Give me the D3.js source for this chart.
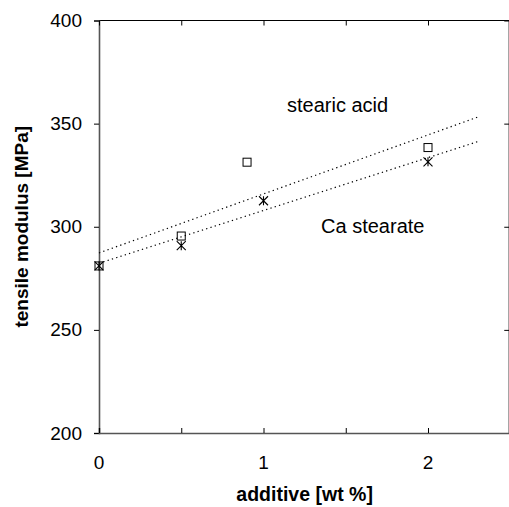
<!DOCTYPE html>
<html>
<head>
<meta charset="utf-8">
<script src="https://cdn.jsdelivr.net/npm/d3@7"></script>
<style>
html,body{margin:0;padding:0;background:#fff;}
svg{display:block;font-family:"Liberation Sans",Arial,sans-serif;}
</style>
</head>
<body>
<svg id="chart" width="509" height="507"></svg>
<script>
// data
const additive = [0, 0.5, 0.9, 2];           // stearic acid x
const stearicAcid = [281, 295.5, 331.3, 338.4];
const additiveCa = [0, 0.5, 1, 2];           // Ca stearate x
const caStearate = [281, 290.8, 312.6, 331.5];
const fitX = [0, 2.3];
const stearicFit = [287.3, 353.1];
const caFit = [282.3, 341.2];
const xTicks = [0, 1, 2];
const xMinorTicks = [0, 0.5, 1, 1.5, 2, 2.5];
const yTicks = [200, 250, 300, 350, 400];
const labels = ["stearic acid", "Ca stearate"];
const labelX = [1.143, 1.35];
const labelY = [355.5, 297];

(function () {
const svg = d3.select("#chart");
const pL = 99, pR = 510.25, pT = 20.5, pB = 433;
const x = d3.scaleLinear().domain([0, 2.5]).range([pL, pR]);
const y = d3.scaleLinear().domain([200, 400]).range([pB, pT]);

// frame lines
svg.append("line").attr("x1", pL).attr("x2", pR).attr("y1", pT).attr("y2", pT)
  .attr("stroke", "#000").attr("stroke-width", 1.2);
svg.append("line").attr("x1", pR - 1).attr("x2", pR - 1).attr("y1", pT).attr("y2", pB)
  .attr("stroke", "#000").attr("stroke-width", 1.2);

// left axis
const yAxis = d3.axisLeft(y).tickValues(yTicks).tickSize(5).tickPadding(12);
const gy = svg.append("g").attr("transform", `translate(${pL},0)`).call(yAxis);
gy.select(".domain").attr("stroke", "#555").attr("stroke-width", 1.6);
gy.selectAll(".tick line").attr("stroke", "#000");
gy.selectAll("text").attr("font-size", 19).attr("fill", "#000")
  .attr("font-family", '"Liberation Sans",Arial,sans-serif');

// right inner ticks
svg.append("g").attr("transform", `translate(${pR - 1},0)`)
  .call(d3.axisLeft(y).tickValues(yTicks).tickSize(5).tickFormat(""))
  .call(g => g.select(".domain").remove());

// bottom axis
const xAxis = d3.axisBottom(x).tickValues(xMinorTicks).tickSize(-5).tickFormat("");
const gx = svg.append("g").attr("transform", `translate(0,${pB})`).call(xAxis);
gx.select(".domain").attr("stroke", "#555").attr("stroke-width", 1.6);
svg.append("g").attr("transform", `translate(0,${pB})`)
  .selectAll("text").data(xTicks).join("text")
  .attr("x", d => x(d)).attr("y", 36).attr("text-anchor", "middle")
  .attr("font-size", 19).text(d => d);

// top inner ticks
svg.append("g").attr("transform", `translate(0,${pT})`)
  .call(d3.axisTop(x).tickValues(xMinorTicks).tickSize(-5).tickFormat(""))
  .call(g => g.select(".domain").remove());

// axis titles
svg.append("text").attr("x", (pL + pR) / 2).attr("y", 501)
  .attr("text-anchor", "middle").attr("font-weight", "bold").attr("font-size", 19.5)
  .text("additive [wt %]");
svg.append("text").attr("transform", `translate(28,${(pT + pB) / 2}) rotate(-90)`)
  .attr("text-anchor", "middle").attr("font-weight", "bold").attr("font-size", 19)
  .text("tensile modulus [MPa]");

// fit lines
const line = d3.line().x(d => x(d[0])).y(d => y(d[1]));
[stearicFit, caFit].forEach(f => {
  svg.append("path").datum(fitX.map((v, i) => [v, f[i]]))
    .attr("d", line).attr("fill", "none").attr("stroke", "#000")
    .attr("stroke-width", 1.2).attr("stroke-dasharray", "1.3,3.2");
});

// squares
const s = 8;
svg.append("g").selectAll("rect").data(additive.map((v, i) => [v, stearicAcid[i]])).join("rect")
  .attr("x", d => x(d[0]) - s / 2).attr("y", d => y(d[1]) - s / 2)
  .attr("width", s).attr("height", s).attr("fill", "none").attr("stroke", "#000").attr("stroke-width", 1);

// stars
const r = 4.5;
svg.append("g").selectAll("path").data(additiveCa.map((v, i) => [v, caStearate[i]])).join("path")
  .attr("d", d => {
    const cx = x(d[0]), cy = y(d[1]);
    return `M${cx - r},${cy - r}L${cx + r},${cy + r}M${cx - r},${cy + r}L${cx + r},${cy - r}M${cx},${cy - r}L${cx},${cy + r}`;
  })
  .attr("stroke", "#000").attr("stroke-width", 1.1).attr("fill", "none");

// annotations
svg.append("g").selectAll("text").data(labels).join("text")
  .attr("x", (d, i) => x(labelX[i])).attr("y", (d, i) => y(labelY[i]))
  .attr("font-size", 20).text(d => d);
})();
</script>
</body>
</html>
